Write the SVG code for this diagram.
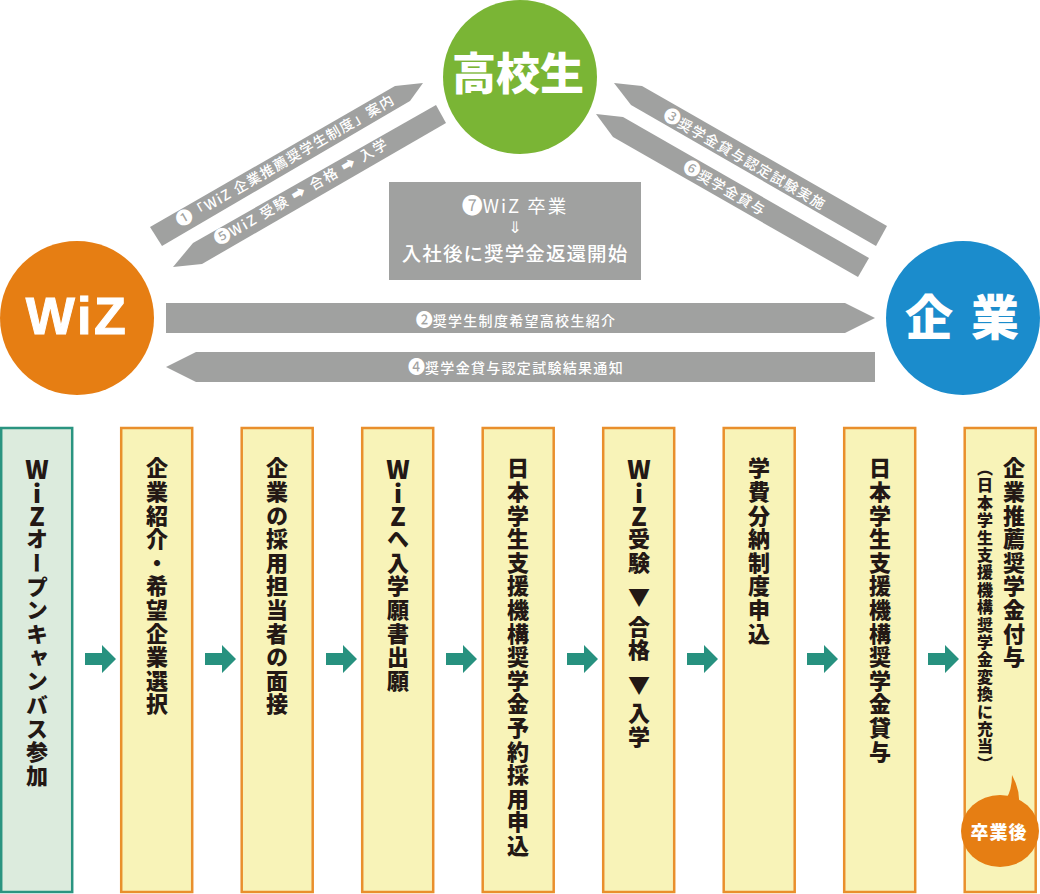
<svg xmlns="http://www.w3.org/2000/svg" width="1040" height="894" viewBox="0 0 1040 894">
<style>
text{font-family:"Noto Sans CJK JP","Noto Sans",sans-serif}
.g{fill:#a0a1a0}
.l{fill:#fff;font-size:14px;font-weight:500;text-anchor:middle;letter-spacing:1.3px}
.n{font-size:17px;letter-spacing:0}
.b{fill:#f8f3b8;stroke:#e98f2c;stroke-width:2.5}
.t{fill:#231815;font-weight:900;font-size:22px;letter-spacing:1.6px;writing-mode:vertical-rl;text-orientation:upright}
.w{font-size:25px;letter-spacing:-1.4px}
.big{fill:#fff;font-weight:900;text-anchor:middle}
.a{fill:#27917f}
</style>
<g id="connectors">
<polygon class="g" points="150,227 395,86 423,83 410,101 162,246"/>
<polygon class="g" points="173,267 193,243 436,105 446,123 202,264"/>
<polygon class="g" points="614,83 642,86 887,226 876,246 631,105"/>
<polygon class="g" points="596,114 623,117 869,258 858,277 613,137"/>
<polygon class="g" points="166,303 845,303 875,318 845,333 166,333"/>
<polygon class="g" points="166,367 196,352 875,352 875,382 196,382"/>
<text class="l" transform="translate(288,165) rotate(-30)"><tspan class="n">❶</tspan>「WiZ 企業推薦奨学生制度」案内</text>
<text class="l" transform="translate(304,196) rotate(-30)" style="letter-spacing:1.8px"><tspan class="n">❺</tspan>WiZ 受験 ➡ 合格 ➡ 入学</text>
<text class="l" transform="translate(742,164) rotate(30)"><tspan class="n">❸</tspan>奨学金貸与認定試験実施</text>
<text class="l" transform="translate(722,193) rotate(30)"><tspan class="n">❻</tspan>奨学金貸与</text>
<text class="l" x="516" y="326"><tspan class="n">❷</tspan>奨学生制度希望高校生紹介</text>
<text class="l" x="516" y="373"><tspan class="n">❹</tspan>奨学金貸与認定試験結果通知</text>
<g id="flow-arrows">
<polygon class="a" points="85,653 102,653 102,645 116,659 102,673 102,665 85,665"/>
<polygon class="a" points="205,653 222,653 222,645 236,659 222,673 222,665 205,665"/>
<polygon class="a" points="326,653 343,653 343,645 357,659 343,673 343,665 326,665"/>
<polygon class="a" points="446,653 463,653 463,645 477,659 463,673 463,665 446,665"/>
<polygon class="a" points="567,653 584,653 584,645 598,659 584,673 584,665 567,665"/>
<polygon class="a" points="687,653 704,653 704,645 718,659 704,673 704,665 687,665"/>
<polygon class="a" points="807,653 824,653 824,645 838,659 824,673 824,665 807,665"/>
<polygon class="a" points="928,653 945,653 945,645 959,659 945,673 945,665 928,665"/>
</g>
</g>
<g id="node-koukousei"><circle cx="520" cy="77" r="77" fill="#7ab535"/><text class="big" x="518" y="90" font-size="44">高校生</text></g>
<g id="node-wiz"><circle cx="77" cy="318" r="77" fill="#e67e13"/><text class="big" x="77" y="334" style='font-family:"Liberation Sans",sans-serif;letter-spacing:2.5px' font-size="52" stroke="#fff" stroke-width="1">WiZ</text></g>
<g id="node-kigyou"><circle cx="963" cy="318" r="77" fill="#1b8ccc"/><text class="big" x="962" y="335" font-size="48" word-spacing="7" xml:space="preserve">企 業</text></g>
<g id="node-7">
<rect class="g" x="389" y="182" width="252" height="98"/>
<text fill="#fff" text-anchor="middle" font-size="18.5" letter-spacing="2" x="515" y="213"><tspan font-size="21" letter-spacing="0">❼</tspan>WiZ 卒業</text>
<text fill="#fff" text-anchor="middle" font-size="16" style='font-family:"DejaVu Sans",sans-serif' x="515" y="233">⇓</text>
<text fill="#fff" text-anchor="middle" font-size="19.5" letter-spacing="1.1" font-weight="500" x="515" y="261">入社後に奨学金返還開始</text>
</g>
<g id="step-1"><rect x="1.2" y="428" width="71" height="464" fill="#dcebdd" stroke="#2a9480" stroke-width="2.5"/><text class="t" x="37" y="457" style="letter-spacing:1.7px"><tspan class="w">WiZ</tspan>オープンキャンバス参加</text></g>
<g id="step-2"><rect class="b" x="121.2" y="428" width="71" height="464"/><text class="t" x="157" y="457">企業紹介・希望企業選択</text></g>
<g id="step-3"><rect class="b" x="241.7" y="428" width="71" height="464"/><text class="t" x="277" y="457">企業の採用担当者の面接</text></g>
<g id="step-4"><rect class="b" x="362.2" y="428" width="71" height="464"/><text class="t" x="398" y="457"><tspan class="w">WiZ</tspan>へ入学願書出願</text></g>
<g id="step-5"><rect class="b" x="482.7" y="428" width="71" height="464"/><text class="t" x="518" y="457">日本学生支援機構奨学金予約採用申込</text></g>
<g id="step-6"><rect class="b" x="603.2" y="428" width="71" height="464"/><text class="t" x="639" y="457"><tspan class="w">WiZ</tspan><tspan>受験</tspan><tspan y="586">▼</tspan><tspan y="615">合格</tspan><tspan y="673">▼</tspan><tspan y="702">入学</tspan></text></g>
<g id="step-7"><rect class="b" x="723.7" y="428" width="71" height="464"/><text class="t" x="759" y="457">学費分納制度申込</text></g>
<g id="step-8"><rect class="b" x="844.2" y="428" width="71" height="464"/><text class="t" x="880" y="457">日本学生支援機構奨学金貸与</text></g>
<g id="step-9"><rect class="b" x="964.7" y="428" width="71" height="464"/><text class="t" x="1014" y="457">企業推薦奨学金付与</text><text class="t" style="font-size:16px;letter-spacing:1.4px" x="985" y="460">（日本学生支援機構奨学金変換に充当）</text></g>
<g id="badge">
<path d="M1012,775 Q1020,790 1019,803 L1006,799 Q1012,790 1012,775Z" fill="#e67e13"/>
<ellipse cx="1000" cy="831" rx="39" ry="36" fill="#e67e13"/>
<text class="big" x="999" y="839" font-size="18" letter-spacing="1">卒業後</text>
</g>
</svg>
